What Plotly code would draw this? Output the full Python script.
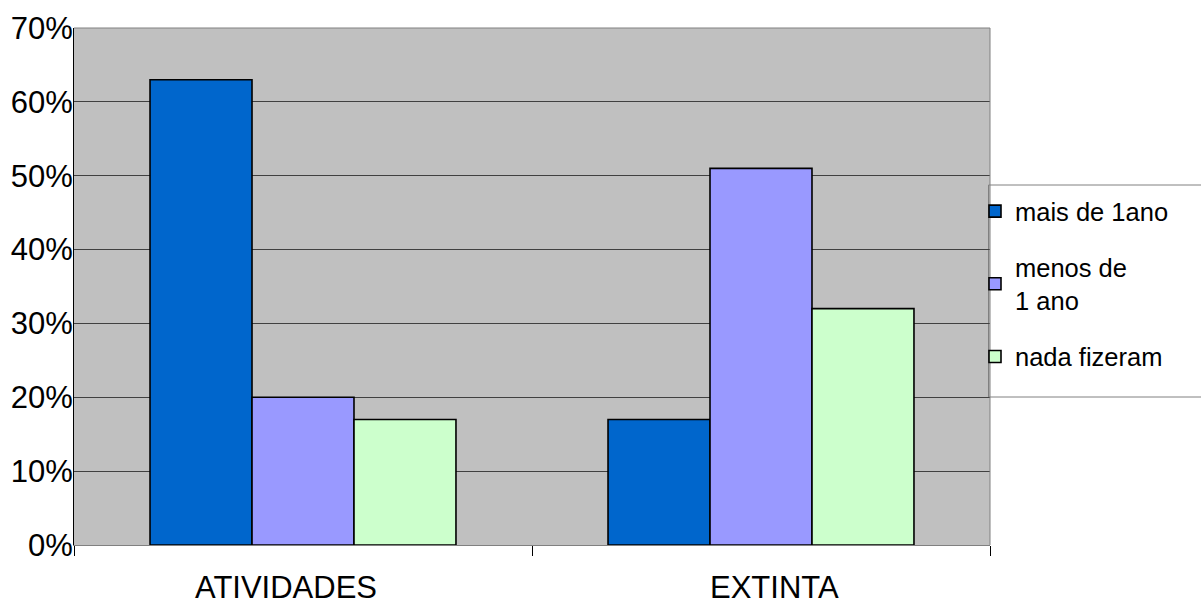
import plotly.graph_objects as go

categories = ["ATIVIDADES", "EXTINTA"]
series_names = ["mais de 1ano", "menos de<br>1 ano", "nada fizeram"]
mais_de_1ano = [63, 17]
menos_de_1ano = [20, 51]
nada_fizeram = [17, 32]
series_values = [mais_de_1ano, menos_de_1ano, nada_fizeram]
series_colors = ["#0066CC", "#9999FF", "#CCFFCC"]
y_ticks = [0, 10, 20, 30, 40, 50, 60, 70]
y_tick_labels = ["0%", "10%", "20%", "30%", "40%", "50%", "60%", "70%"]
category_label_shift = [-17, 13]

FONT = "Liberation Sans, Arial, sans-serif"

fig = go.Figure()
for i, (name, vals, col) in enumerate(zip(series_names, series_values, series_colors)):
    fig.add_trace(go.Bar(
        x=categories, y=vals, name=name,
        marker=dict(color=col, line=dict(color="#000000", width=1.6)),
        legendgroup=f"g{i}",
    ))

L, R, T, B = 74, 211, 28, 54
W, H = 1201, 599
pw, ph = W - L - R, H - T - B

def px_x(x):
    return (x - L) / pw

def px_y(y):
    return (H - B - y) / ph

# category labels under the axis, placed as annotations for finer offset control
annotations = [
    dict(x=cat, xref="x", y=0, yref="paper", text=cat, showarrow=False,
         xanchor="center", yanchor="middle", xshift=dx, yshift=-42,
         font=dict(size=31, family=FONT, color="#000000"))
    for cat, dx in zip(categories, category_label_shift)
]

fig.update_layout(
    width=W, height=H,
    margin=dict(l=L, r=R, t=T, b=B, pad=0),
    paper_bgcolor="#FFFFFF",
    plot_bgcolor="#C0C0C0",
    barmode="group",
    bargap=0.332,
    bargroupgap=0,
    font=dict(family=FONT, color="#000000"),
    legend=dict(
        x=px_x(975), y=px_y(188), xanchor="left", yanchor="top",
        font=dict(size=25.5, family=FONT),
        bgcolor="rgba(0,0,0,0)", borderwidth=0,
        traceorder="grouped", tracegroupgap=20,
    ),
    annotations=annotations,
    shapes=[
        dict(type="rect", xref="paper", yref="paper",
             x0=px_x(988.5), x1=px_x(1230), y0=px_y(397), y1=px_y(185),
             line=dict(color="#808080", width=1), fillcolor="rgba(0,0,0,0)",
             layer="below"),
        dict(type="line", xref="paper", yref="paper",
             x0=0, x1=1, y0=1, y1=1, line=dict(color="#808080", width=1)),
        dict(type="line", xref="paper", yref="paper",
             x0=1, x1=1, y0=0, y1=1, line=dict(color="#808080", width=1)),
    ],
)

fig.update_xaxes(
    type="category",
    tickson="boundaries",
    ticks="outside", ticklen=10, tickcolor="#000000", tickwidth=1,
    showline=True, linecolor="#808080", linewidth=1,
    showgrid=False,
    automargin=False,
    showticklabels=False,
)
fig.update_yaxes(
    range=[0, 70],
    tickvals=y_ticks,
    ticktext=y_tick_labels,
    showline=True, linecolor="#000000", linewidth=1,
    showgrid=True, gridcolor="#404040", gridwidth=1,
    zeroline=False,
    ticks="",
    automargin=False,
    ticklabelstandoff=-6,
    tickfont=dict(size=31, family=FONT),
)

fig.write_html("out.html")
